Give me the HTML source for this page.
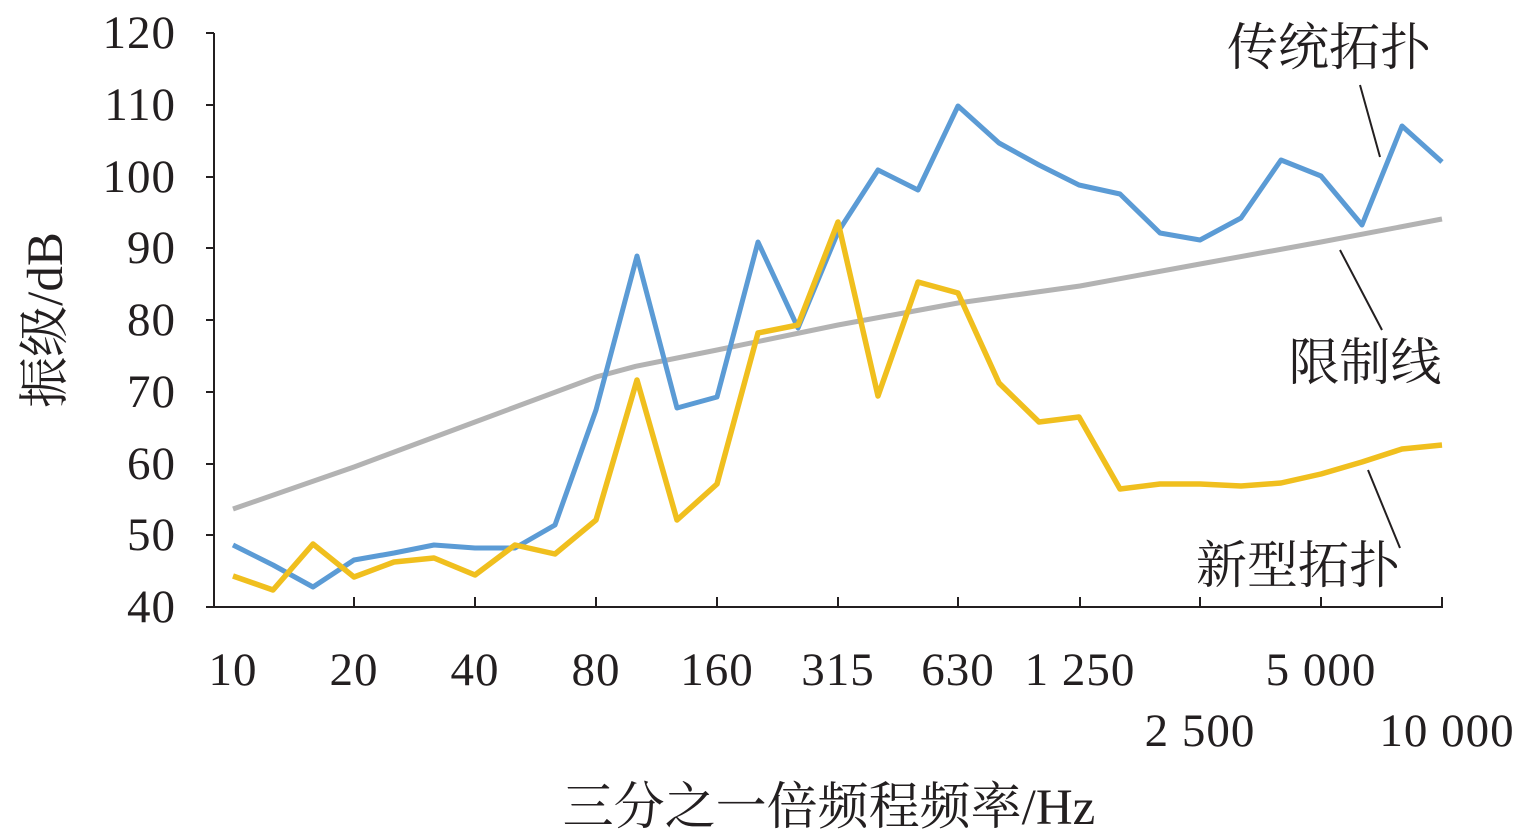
<!DOCTYPE html>
<html><head><meta charset="utf-8"><style>
html,body{margin:0;padding:0;background:#fff;width:1535px;height:839px;overflow:hidden}
text{font-family:"Liberation Serif","Noto Serif CJK SC",serif;fill:#231f20}
</style></head><body>
<svg width="1535" height="839" viewBox="0 0 1535 839" xmlns="http://www.w3.org/2000/svg">
<g stroke="#231f20" stroke-width="2" fill="none">
<line x1="214" y1="33" x2="214" y2="607"/>
<line x1="214" y1="607" x2="1443" y2="607"/>
<line x1="206" y1="33" x2="214" y2="33"/><line x1="206" y1="105" x2="214" y2="105"/>
<line x1="206" y1="177" x2="214" y2="177"/><line x1="206" y1="248" x2="214" y2="248"/>
<line x1="206" y1="320" x2="214" y2="320"/><line x1="206" y1="392" x2="214" y2="392"/>
<line x1="206" y1="464" x2="214" y2="464"/><line x1="206" y1="535" x2="214" y2="535"/>
<line x1="206" y1="607" x2="214" y2="607"/>
<line x1="354" y1="597" x2="354" y2="607"/><line x1="475" y1="597" x2="475" y2="607"/>
<line x1="596" y1="597" x2="596" y2="607"/><line x1="717" y1="597" x2="717" y2="607"/>
<line x1="838" y1="597" x2="838" y2="607"/><line x1="958" y1="597" x2="958" y2="607"/>
<line x1="1080" y1="597" x2="1080" y2="607"/><line x1="1200" y1="597" x2="1200" y2="607"/>
<line x1="1321" y1="597" x2="1321" y2="607"/><line x1="1442" y1="597" x2="1442" y2="607"/>
<line x1="1360" y1="85" x2="1380" y2="157"/>
<line x1="1340" y1="250" x2="1382" y2="330"/>
<line x1="1368" y1="470" x2="1400" y2="548"/>
</g>
<g font-size="47" text-anchor="end" letter-spacing="1">
<text x="176" y="48">120</text><text x="176" y="120">110</text><text x="176" y="192">100</text>
<text x="176" y="263">90</text><text x="176" y="335">80</text><text x="176" y="407">70</text>
<text x="176" y="479">60</text><text x="176" y="550">50</text><text x="176" y="622">40</text>
</g>
<g font-size="47" text-anchor="middle" letter-spacing="1">
<text x="233" y="685">10</text><text x="354" y="685">20</text><text x="475" y="685">40</text>
<text x="596" y="685">80</text><text x="717" y="685">160</text><text x="838" y="685">315</text>
<text x="958" y="685">630</text><text x="1080" y="685">1 250</text><text x="1321" y="685">5 000</text>
<text x="1200" y="746">2 500</text><text x="1447" y="746">10 000</text>
</g>
<g font-size="51" text-anchor="middle">
<text x="829" y="824">三分之一倍频程频率/Hz</text>
<text transform="translate(62,320) rotate(-90)">振级/dB</text>
<text x="1329" y="65">传统拓扑</text>
<text x="1365" y="380">限制线</text>
<text x="1298" y="583">新型拓扑</text>
</g>
<polyline fill="none" stroke="#b3b3b3" stroke-width="5" points="233,509 354,467 475,422 596,377 637,366 717,350 838,325 958,303 1080,286 1200,264 1321,242 1442,219"/>
<polyline fill="none" stroke="#5b9bd5" stroke-width="5" stroke-linejoin="round" points="233,545 273,565 313,587 354,560 394,553 434,545 475,548 515,548 555,525 596,410 637,256 677,408 717,397 758,242 798,328 838,232 878,170 918,190 958,106 999,143 1039,165 1079,185 1120,194 1160,233 1200,240 1241,218 1281,160 1321,176 1362,225 1402,126 1442,162"/>
<polyline fill="none" stroke="#f0bf1e" stroke-width="5.5" stroke-linejoin="round" points="233,576 273,590 313,544 354,577 394,562 434,558 475,575 515,545 555,554 596,520 637,380 677,520 717,484 758,333 798,325 838,222 878,396 918,282 958,293 999,383 1039,422 1079,417 1120,489 1160,484 1200,484 1241,486 1281,483 1321,474 1362,462 1402,449 1442,445"/>
</svg>
</body></html>
